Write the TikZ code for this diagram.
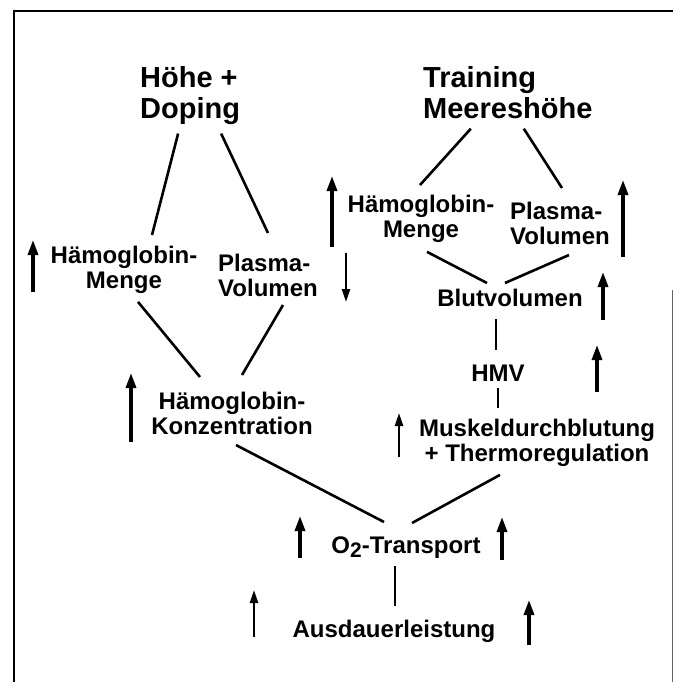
\documentclass[tikz,border=0pt]{standalone}
\usepackage{fontspec}
\setmainfont{Liberation Sans}
\usetikzlibrary{arrows.meta}

\begin{document}
\begin{tikzpicture}[x=1pt,y=-1pt,
  lbl/.style={inner sep=0pt,align=center,font=\bfseries\fontsize{24}{25}\selectfont},
  ttl/.style={inner sep=0pt,align=left,anchor=north west,font=\bfseries\fontsize{29}{31}\selectfont},
  link/.style={line width=2.6pt},
  up/.style={line width=3.2pt,-{Triangle[length=15pt,width=10pt]}},
  upthin/.style={line width=2.3pt,-{Triangle[length=13pt,width=8pt]}}]
\useasboundingbox (0,0) rectangle (673,682);
% frame
\draw[line width=1.2pt] (14,682) -- (14,11) -- (673,11);
\draw[line width=0.8pt,black!60] (672,290) -- (672,682);

% titles
\node[ttl] (hd) at (140,66) {Höhe +\\Doping};
\node[ttl] (tm) at (423,66) {Training\\Meereshöhe};

% left branch
\node[lbl,anchor=north] (hmL) at (124,246) {Hämoglobin-\\Menge};
\node[lbl,align=left,anchor=north west] (pvL) at (218,254) {Plasma-\\Volumen};
\node[lbl,anchor=north] (hk) at (232,392) {Hämoglobin-\\Konzentration};

% right branch
\node[lbl,anchor=north] (hmR) at (421,195) {Hämoglobin-\\Menge};
\node[lbl,align=left,anchor=north west] (pvR) at (510,202) {Plasma-\\Volumen};
\node[lbl,anchor=north] (blut) at (510,289) {Blutvolumen};
\node[lbl,anchor=north] (hmv) at (498,365) {HMV};
\node[lbl,anchor=north] (musk) at (537,419) {Muskeldurchblutung\\+ Thermoregulation};

% bottom
\node[lbl,anchor=north] (o2) at (406,537) {O\raisebox{-4pt}{\fontsize{21}{21}\selectfont 2}-Transport};
\node[lbl,anchor=north] (aus) at (394,620) {Ausdauerleistung};

% links
\draw[link] ([xshift=-12pt,yshift=-9pt]hd.south) -- ([xshift=28pt,yshift=11pt]hmL.north);
\draw[link] ([xshift=31pt,yshift=-9pt]hd.south) -- ([yshift=21pt]pvL.north);
\draw[link] ([xshift=14pt,yshift=-8pt]hmL.south) -- ([xshift=-32pt,yshift=15pt]hk.north);
\draw[link] ([xshift=15pt,yshift=-8pt]pvL.south) -- ([xshift=10pt,yshift=17pt]hk.north);
\draw[link] ([xshift=-37pt,yshift=-10pt]tm.south) -- ([xshift=-1pt,yshift=10pt]hmR.north);
\draw[link] ([xshift=16pt,yshift=-10pt]tm.south) -- ([xshift=2pt,yshift=14pt]pvR.north);
\draw[link] ([xshift=6pt,yshift=-9pt]hmR.south) -- ([xshift=-23pt,yshift=6pt]blut.north);
\draw[link] ([xshift=9pt,yshift=-10pt]pvR.south) -- ([xshift=-5pt,yshift=6pt]blut.north);
\draw[link] ([xshift=-14pt,yshift=-12pt]blut.south) -- ([xshift=-2pt,yshift=15pt]hmv.north);
\draw[link] ([yshift=-6pt]hmv.south) -- ([xshift=-39pt,yshift=11pt]musk.north);
\draw[link] ([xshift=4pt,yshift=-10pt]hk.south) -- ([xshift=-22pt,yshift=15pt]o2.north);
\draw[link] ([xshift=-37pt,yshift=-8pt]musk.south) -- ([xshift=6pt,yshift=14pt]o2.north);
\draw[link] ([xshift=-11pt,yshift=-7pt]o2.south) -- ([xshift=1pt,yshift=14pt]aus.north);

% arrows
\draw[up] (33,292) -- (33,240);
\draw[up] (332,247) -- (332,176);
\draw[upthin] (346,253) -- (346,302);
\draw[up] (623,257) -- (623,180);
\draw[up] (603,320) -- (603,272);
\draw[up] (597,392) -- (597,345);
\draw[upthin] (399,457) -- (399,413);
\draw[up] (131,442) -- (131,373);
\draw[up] (300,558) -- (300,516);
\draw[up] (502,560) -- (502,517);
\draw[upthin] (254,637) -- (254,590);
\draw[up] (529,645) -- (529,600);
\end{tikzpicture}
\end{document}
